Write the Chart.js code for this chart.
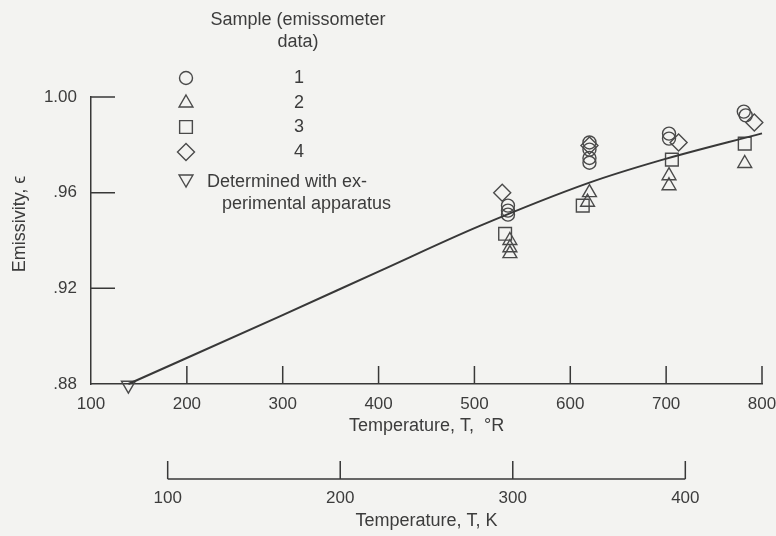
<!DOCTYPE html>
<html>
<head>
<meta charset="utf-8">
<script src="https://cdn.jsdelivr.net/npm/chart.js@4/dist/chart.umd.min.js"></script>
<style>
  body { margin: 0; background: #f3f3f1; }
  canvas { display: block; }
</style>
</head>
<body>
<canvas id="grafico" width="776" height="536"></canvas>
<script>
// sample 1 .. 4 (emissometer), temperature in deg R
const amostra1T = [535, 535, 535, 620, 620, 620, 620, 703, 703, 781, 783];
const amostra1E = [0.9546, 0.9525, 0.9508, 0.981, 0.978, 0.9745, 0.9725, 0.9847, 0.9826, 0.9939, 0.9923];
const amostra2T = [537, 537, 537, 620, 618, 703, 703, 782];
const amostra2E = [0.940, 0.937, 0.9345, 0.960, 0.956, 0.9671, 0.9629, 0.9722];
const amostra3T = [532, 613, 706, 782];
const amostra3E = [0.9428, 0.9546, 0.9738, 0.9805];
const amostra4T = [529, 620, 713, 792];
const amostra4E = [0.960, 0.9797, 0.981, 0.9893];
const aparatoT = [139];
const aparatoE = [0.8795];
const curvaT = [139, 297, 401, 505, 620, 693, 800];
const curvaE = [0.880, 0.9083, 0.9272, 0.9460, 0.9642, 0.9734, 0.9848];

const ticksR = [100, 200, 300, 400, 500, 600, 700, 800];
const ticksK = [100, 200, 300, 400];
const ticksE = [0.88, 0.92, 0.96, 1.00];
const rotulosE = [".88", ".92", ".96", "1.00"];

const legendaTitulo = ["Sample (emissometer", "data)"];
const legendaRotulos = ["1", "2", "3", "4"];
const legendaAparato = ["Determined with ex-", "perimental apparatus"];

const fonte = "'Liberation Sans Narrow', 'Liberation Sans', sans-serif";
const corTexto = "#3c3c3c";
const corLinha = "#383838";
const corMarca = "#4a4a4a";

function pontos(xs, ys) {
  return xs.map((x, i) => ({ x: x, y: ys[i] }));
}

function marcador(label, xs, ys, estilo, raio, rotacao) {
  return {
    label: label,
    data: pontos(xs, ys),
    showLine: false,
    pointStyle: estilo,
    pointRadius: raio,
    pointRotation: rotacao || 0,
    pointBorderColor: corMarca,
    pointBackgroundColor: "rgba(0,0,0,0)",
    pointBorderWidth: 1.4,
    clip: false,
  };
}

const datasets = [
  {
    label: "curva",
    data: pontos(curvaT, curvaE),
    borderColor: corLinha,
    borderWidth: 2,
    pointRadius: 0,
    cubicInterpolationMode: "monotone",
    showLine: true,
    clip: false,
  },
  marcador("1", amostra1T, amostra1E, "circle", 6.5),
  marcador("2", amostra2T, amostra2E, "triangle", 8),
  marcador("3", amostra3T, amostra3E, "rect", 9),
  marcador("4", amostra4T, amostra4E, "rectRot", 8.5),
  marcador("aparato", aparatoT, aparatoE, "triangle", 8, 180),
];

function desenhaMarca(ctx, ds, x, y) {
  ctx.save();
  ctx.strokeStyle = corMarca;
  ctx.fillStyle = "rgba(0,0,0,0)";
  ctx.lineWidth = 1.4;
  Chart.helpers.drawPoint(ctx, {
    pointStyle: ds.pointStyle,
    radius: ds.pointRadius,
    rotation: ds.pointRotation,
    borderWidth: 1.4,
  }, x, y);
  ctx.restore();
}

// inward ticks, K bracket, legend and y title
const extras = {
  id: "extras",
  afterDraw(chart) {
    const ctx = chart.ctx;
    const x = chart.scales.x;
    const y = chart.scales.y;
    const k = chart.scales.k;
    ctx.save();
    ctx.strokeStyle = corLinha;
    ctx.lineWidth = 1.5;
    ctx.beginPath();
    ticksR.slice(1).forEach((v) => {
      const px = x.getPixelForValue(v);
      ctx.moveTo(px, y.bottom);
      ctx.lineTo(px, y.bottom - 18);
    });
    ticksE.slice(1).forEach((v) => {
      const py = y.getPixelForValue(v);
      ctx.moveTo(x.left, py);
      ctx.lineTo(x.left + 24, py);
    });
    // K axis bracket
    const k0 = k.getPixelForValue(ticksK[0]);
    const k1 = k.getPixelForValue(ticksK[ticksK.length - 1]);
    ctx.moveTo(k0, k.top);
    ctx.lineTo(k1, k.top);
    ticksK.forEach((v) => {
      const px = k.getPixelForValue(v);
      ctx.moveTo(px, k.top);
      ctx.lineTo(px, k.top - 18);
    });
    ctx.stroke();

    // y title
    ctx.fillStyle = corTexto;
    ctx.font = "18px " + fonte;
    ctx.textAlign = "center";
    ctx.textBaseline = "middle";
    ctx.save();
    ctx.translate(20, 224);
    ctx.rotate(-Math.PI / 2);
    ctx.fillText("Emissivity, \u03f5", 0, 0);
    ctx.restore();

    // legend
    ctx.fillText(legendaTitulo[0], 298, 20);
    ctx.fillText(legendaTitulo[1], 298, 42);
    const linhas = [78, 103, 127, 152];
    legendaRotulos.forEach((r, i) => {
      desenhaMarca(ctx, chart.data.datasets[i + 1], 186, linhas[i]);
      ctx.fillText(r, 299, linhas[i]);
    });
    desenhaMarca(ctx, chart.data.datasets[5], 186, 179);
    ctx.textAlign = "left";
    ctx.fillText(legendaAparato[0], 207, 182);
    ctx.fillText(legendaAparato[1], 222, 204);
    ctx.restore();
  },
};

new Chart(document.getElementById("grafico"), {
  type: "scatter",
  data: { datasets: datasets },
  options: {
    responsive: false,
    animation: false,
    devicePixelRatio: 1,
    layout: { padding: { top: 97, right: 0, left: 0, bottom: 0 } },
    plugins: { legend: { display: false }, tooltip: { enabled: false } },
    scales: {
      x: {
        type: "linear",
        position: "bottom",
        min: 100,
        max: 800,
        afterBuildTicks: (s) => { s.ticks = ticksR.map((v) => ({ value: v })); },
        afterFit: (s) => { s.height = 95; s.paddingRight = 14; },
        grid: { display: false },
        border: { display: true, color: corLinha, width: 1.5 },
        ticks: { color: corTexto, font: { family: fonte, size: 17 }, padding: 2, maxRotation: 0 },
        title: {
          display: true,
          text: "Temperature, T,  \u00b0R",
          color: corTexto,
          font: { family: fonte, size: 18 },
          padding: { top: 0, bottom: 42 },
        },
      },
      k: {
        type: "linear",
        position: "bottom",
        weight: 1,
        min: 100 / 1.8,
        max: 800 / 1.8,
        afterBuildTicks: (s) => { s.ticks = ticksK.map((v) => ({ value: v })); },
        afterFit: (s) => { s.height = 57; s.paddingRight = 14; },
        grid: { display: false },
        border: { display: false },
        ticks: { color: corTexto, font: { family: fonte, size: 17 }, padding: 1, maxRotation: 0 },
        title: {
          display: true,
          text: "Temperature, T, K",
          color: corTexto,
          font: { family: fonte, size: 18 },
          padding: { top: 0, bottom: 4 },
        },
      },
      y: {
        type: "linear",
        min: 0.88,
        max: 1.0,
        afterBuildTicks: (s) => { s.ticks = ticksE.map((v) => ({ value: v })); },
        afterFit: (s) => { s.width = 91; },
        grid: { display: false },
        border: { display: true, color: corLinha, width: 1.5 },
        ticks: {
          color: corTexto,
          font: { family: fonte, size: 17 },
          padding: 6,
          callback: (v) => rotulosE[ticksE.indexOf(v)],
        },
      },
    },
  },
  plugins: [extras],
});
</script>
</body>
</html>
